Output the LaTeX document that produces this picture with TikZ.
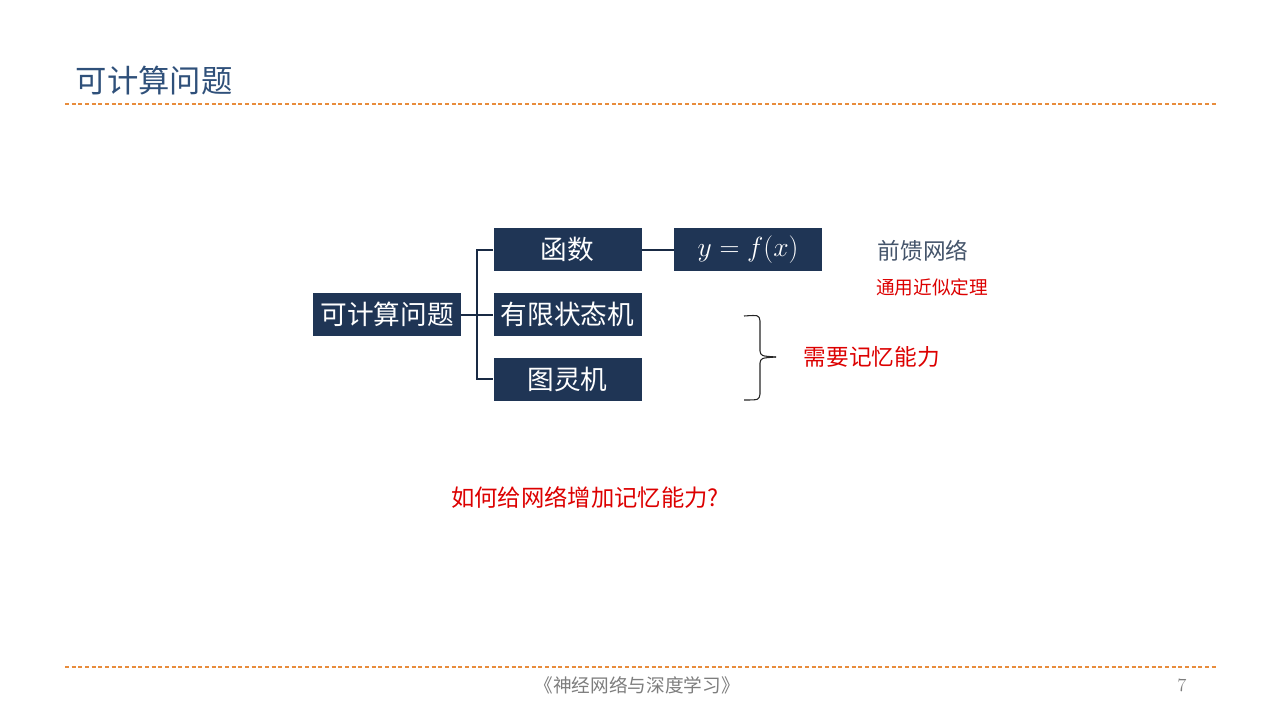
\documentclass[tikz,border=0pt]{standalone}
\usepackage{fontspec}
\newfontfamily\cjk{Noto Sans CJK SC}
\usetikzlibrary{positioning}

\definecolor{navy}{RGB}{31,53,85}
\definecolor{titleblue}{RGB}{47,80,122}
\definecolor{slate}{RGB}{68,84,106}
\definecolor{alarm}{RGB}{220,0,0}
\definecolor{rulec}{RGB}{232,140,60}
\definecolor{footc}{RGB}{125,125,125}

\begin{document}
\begin{tikzpicture}[
				x=0.75pt, y=-0.75pt,
				node distance=16pt and 24pt,
				block/.style={rectangle, fill=navy, text=white, minimum width=111pt, minimum height=32.25pt, inner sep=0pt, font=\cjk\fontsize{20}{24}\selectfont},
				link/.style={draw=navy!80!black, line width=1.5pt},
				hrule/.style={draw=rulec, line width=0.9pt, dash pattern=on 3pt off 2pt}
				]
				\useasboundingbox (0,0) rectangle (1280,720);
				% header and footer
				\node[anchor=west, text=titleblue, font=\cjk\fontsize{23.5}{28}\selectfont] (title) at (71,81) {可计算问题};
				\coordinate (topl) at (65,104);
				\coordinate (topr) at (1217,104);
				\coordinate (botl) at (65,667);
				\coordinate (botr) at (1217,667);
				\draw[hrule] (topl) -- (topr);
				\draw[hrule] (botl) -- (botr);
				\node[text=footc, font=\cjk\fontsize{14}{16}\selectfont] (book) at (637,685) {《神经网络与深度学习》};
				\node[text=footc, font=\fontsize{14}{16}\selectfont] (page) at (1182,685) {7};
				
				% tree
				\node[block] (root) at (387,314.5) {可计算问题};
				\node[block, right=of root] (fsm) {有限状态机};
				\node[block, above=of fsm] (func) {函数};
				\node[block, below=of fsm] (turing) {图灵机};
				\node[block, right=of func, font=\huge] (formula) {$y=f(x)$};
				
				\draw[link] (root.east) -- (fsm.west);
				\draw[link] (root.east) -- ++(12pt,0) coordinate (fork);
				\draw[link] (func.west) -- (fork |- func.west) -- (fork |- turing.west) -- (turing.west);
				\draw[link] (func.east) -- (formula.west);
				
				% notes
				\node[text=slate, font=\cjk\fontsize{17}{20}\selectfont] (ffn) at (923,251) {前馈网络};
				\node[text=alarm, font=\cjk\fontsize{14}{16}\selectfont] (uat) at (932,287) {通用近似定理};
				\coordinate (bracetop) at (744,316);
				\coordinate (bracetip) at (776,357);
				\coordinate (bracebot) at (744,400);
				\draw[black!85, line width=0.8pt] (bracetop) .. controls (759,315) .. (760,321) -- (760,351) .. controls (761,356) .. (bracetip);
				\draw[black!85, line width=0.8pt] (bracetip) .. controls (761,358) .. (760,363) -- (760,394) .. controls (759,400) .. (bracebot);
				\node[anchor=west, text=alarm, font=\cjk\fontsize{17}{20}\selectfont] (memory) at (799,357) {需要记忆能力};
				\node[text=alarm, font=\cjk\fontsize{17.5}{20}\selectfont] (question) at (585,498) {如何给网络增加记忆能力?};
			\end{tikzpicture}
\end{document}
